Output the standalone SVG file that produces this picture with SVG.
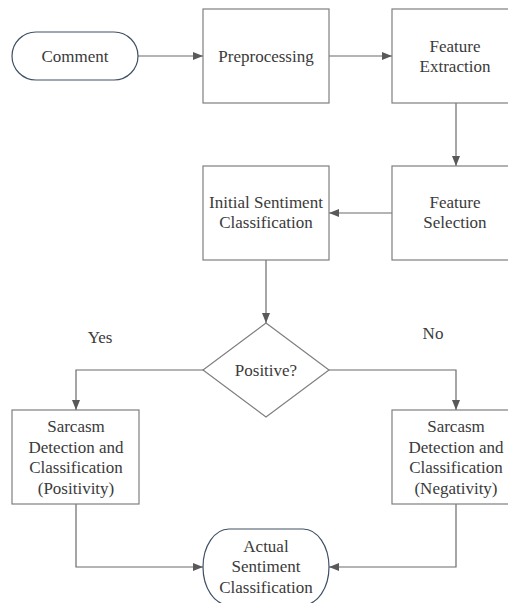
<svg xmlns="http://www.w3.org/2000/svg" width="508" height="603" viewBox="0 0 508 603">
<defs>
<marker id="ah" markerWidth="10" markerHeight="8" refX="10" refY="4" orient="auto" markerUnits="userSpaceOnUse">
<path d="M0,0 L10,4 L0,8 Z" fill="#595959"/>
</marker>
</defs>
<rect width="508" height="603" fill="#fff"/>
<g id="connectors" fill="none" stroke="#6b6b6b" stroke-width="1.2">
<path d="M138,56 H203" marker-end="url(#ah)"/>
<path d="M329,56 H392" marker-end="url(#ah)"/>
<path d="M456,103 V166" marker-end="url(#ah)"/>
<path d="M392,213 H329" marker-end="url(#ah)"/>
<path d="M266,260 V323" marker-end="url(#ah)"/>
<path d="M203,370 H76 V410" marker-end="url(#ah)"/>
<path d="M329,370 H456 V410" marker-end="url(#ah)"/>
<path d="M76,504 V567 H203" marker-end="url(#ah)"/>
<path d="M456,504 V567 H329" marker-end="url(#ah)"/>
</g>
<g font-family="Liberation Serif" font-size="17" fill="#3a3a3a" text-anchor="middle">
<text x="100" y="343">Yes</text>
<text x="433" y="339">No</text>
</g>
<g fill="#fff" stroke="#7f7f7f" stroke-width="1.2">
<g id="comment">
<rect stroke="#3f5066" x="12" y="32" width="126" height="48" rx="24" ry="24"/>
<text font-family="Liberation Serif" font-size="17" fill="#3a3a3a" stroke="none" text-anchor="middle" x="75" y="62">Comment</text>
</g>
<g id="preprocessing">
<rect x="203" y="9" width="126" height="94"/>
<text font-family="Liberation Serif" font-size="17" fill="#3a3a3a" stroke="none" text-anchor="middle" x="266" y="62">Preprocessing</text>
</g>
<g id="feature-extraction">
<rect x="392" y="9" width="126" height="94"/>
<g font-family="Liberation Serif" font-size="17" fill="#3a3a3a" stroke="none" text-anchor="middle">
<text x="455" y="52">Feature</text>
<text x="455" y="72">Extraction</text>
</g>
</g>
<g id="feature-selection">
<rect x="392" y="166" width="126" height="94"/>
<g font-family="Liberation Serif" font-size="17" fill="#3a3a3a" stroke="none" text-anchor="middle">
<text x="455" y="208">Feature</text>
<text x="455" y="228">Selection</text>
</g>
</g>
<g id="initial-sentiment">
<rect x="203" y="166" width="126" height="94"/>
<g font-family="Liberation Serif" font-size="17" fill="#3a3a3a" stroke="none" text-anchor="middle">
<text x="266" y="208">Initial Sentiment</text>
<text x="266" y="228">Classification</text>
</g>
</g>
<g id="positive">
<path d="M266,323 L329,370 L266,417 L203,370 Z"/>
<text font-family="Liberation Serif" font-size="17" fill="#3a3a3a" stroke="none" text-anchor="middle" x="266" y="376">Positive?</text>
</g>
<g id="sarcasm-positive">
<rect x="12" y="410" width="127" height="94"/>
<g font-family="Liberation Serif" font-size="17" fill="#3a3a3a" stroke="none" text-anchor="middle">
<text x="76" y="432">Sarcasm</text>
<text x="76" y="453">Detection and</text>
<text x="76" y="473">Classification</text>
<text x="76" y="494">(Positivity)</text>
</g>
</g>
<g id="sarcasm-negative">
<rect x="392" y="410" width="126" height="94"/>
<g font-family="Liberation Serif" font-size="17" fill="#3a3a3a" stroke="none" text-anchor="middle">
<text x="456" y="432">Sarcasm</text>
<text x="456" y="453">Detection and</text>
<text x="456" y="473">Classification</text>
<text x="456" y="494">(Negativity)</text>
</g>
</g>
<g id="actual-sentiment">
<rect stroke="#3f5066" x="203" y="529" width="126" height="76" rx="26" ry="38"/>
<g font-family="Liberation Serif" font-size="17" fill="#3a3a3a" stroke="none" text-anchor="middle">
<text x="266" y="552">Actual</text>
<text x="266" y="572">Sentiment</text>
<text x="266" y="593">Classification</text>
</g>
</g>
</g>
</svg>
